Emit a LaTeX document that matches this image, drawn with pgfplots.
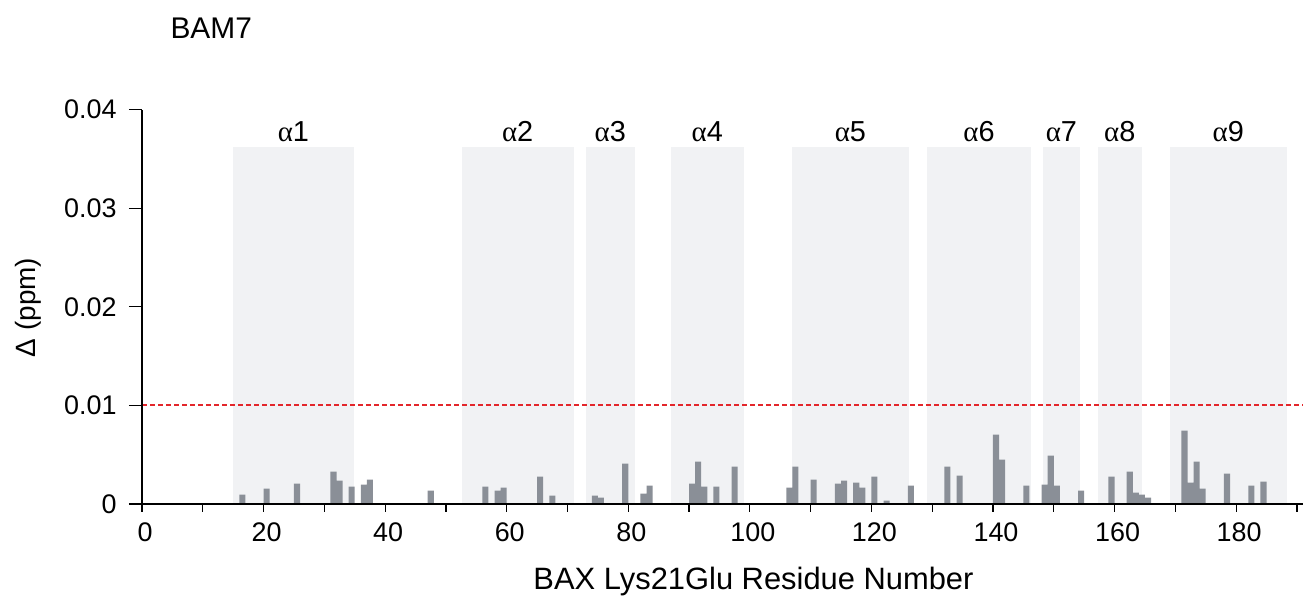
\documentclass[border=0pt]{standalone}
\usepackage{pgfplots}
\pgfplotsset{compat=1.18}
\usepackage{fontspec}
\setmainfont{Liberation Sans}
\newfontfamily\grk{Liberation Serif}
\definecolor{barc}{HTML}{8A8F97}
\definecolor{shade}{HTML}{F1F2F4}
\definecolor{redl}{HTML}{E3262B}
\pgfplotsset{
  common/.style={
    at={(0,0)}, anchor=south west,
    scale only axis, width=1161bp, height=394.4bp,
    xmin=0, xmax=191, ymin=0, ymax=0.04,
    axis line style={line width=1.2bp, black},
    tick align=outside,
    tick style={black, line width=1.2bp},
    tick label style={font=\fontsize{27}{32}\selectfont},
    /pgf/number format/assume math mode=true,
    clip=false,
  }
}
\begin{document}
\begin{tikzpicture}
% main axis: data, x ticks
\begin{axis}[common,
  axis on top,
  axis x line*=bottom, axis y line=none,
  major tick length=8bp, minor tick length=8bp,
  xtick={0,20,...,180}, minor xtick={10,30,...,190},
  xticklabel style={yshift=-7bp, xshift=3bp},
]
% helix regions
\addplot[fill=shade, draw=none] coordinates {(15,0)(15,0.0362)(34.8,0.0362)(34.8,0)} -- cycle;
\addplot[fill=shade, draw=none] coordinates {(52.6,0)(52.6,0.0362)(71,0.0362)(71,0)} -- cycle;
\addplot[fill=shade, draw=none] coordinates {(73,0)(73,0.0362)(81.1,0.0362)(81.1,0)} -- cycle;
\addplot[fill=shade, draw=none] coordinates {(87,0)(87,0.0362)(99,0.0362)(99,0)} -- cycle;
\addplot[fill=shade, draw=none] coordinates {(107,0)(107,0.0362)(126.1,0.0362)(126.1,0)} -- cycle;
\addplot[fill=shade, draw=none] coordinates {(129.1,0)(129.1,0.0362)(146.3,0.0362)(146.3,0)} -- cycle;
\addplot[fill=shade, draw=none] coordinates {(148.2,0)(148.2,0.0362)(154.3,0.0362)(154.3,0)} -- cycle;
\addplot[fill=shade, draw=none] coordinates {(157.2,0)(157.2,0.0362)(164.5,0.0362)(164.5,0)} -- cycle;
\addplot[fill=shade, draw=none] coordinates {(169.1,0)(169.1,0.0362)(188.3,0.0362)(188.3,0)} -- cycle;
% threshold
\addplot[draw=redl, line width=1.8bp, dash pattern=on 5bp off 3bp, mark=none] coordinates {(0,0.01)(191,0.01)};
% bars
\addplot[ybar, bar width=1, bar shift=0.5, fill=barc, draw=none] coordinates {
(16,0.00095)(20,0.00155)(25,0.00206)(31,0.00328)(32,0.00237)(34,0.00176)(36,0.00196)(37,0.00247)(47,0.00135)
(56,0.00176)(58,0.00135)(59,0.00166)(65,0.00277)(67,0.00085)(74,0.00085)(75,0.00064)(79,0.0041)(82,0.00105)(83,0.00186)
(90,0.00206)(91,0.00429)(92,0.00176)(94,0.00176)(97,0.00379)(106,0.00166)(107,0.00379)(110,0.00247)(114,0.00206)
(115,0.00237)(117,0.00216)(118,0.00166)(120,0.00277)(122,0.00034)(126,0.00186)(132,0.00379)(134,0.00287)
(140,0.00703)(141,0.00449)(145,0.00186)(148,0.00196)(149,0.0049)(150,0.00186)(154,0.00135)(159,0.00277)
(162,0.00328)(163,0.00115)(164,0.00095)(165,0.00064)(171,0.00744)(172,0.00216)(173,0.00429)(174,0.00155)
(178,0.00308)(182,0.00186)(184,0.00227)};
% helix labels
\begin{scope}[every node/.style={anchor=base, font=\fontsize{29}{34}\selectfont}]
\node at (axis cs:24.9,0.0368) {{\grk α}1};
\node at (axis cs:61.8,0.0368) {{\grk α}2};
\node at (axis cs:77.05,0.0368) {{\grk α}3};
\node at (axis cs:93,0.0368) {{\grk α}4};
\node at (axis cs:116.55,0.0368) {{\grk α}5};
\node at (axis cs:137.7,0.0368) {{\grk α}6};
\node at (axis cs:151.25,0.0368) {{\grk α}7};
\node at (axis cs:160.85,0.0368) {{\grk α}8};
\node at (axis cs:178.7,0.0368) {{\grk α}9};
\end{scope}
\end{axis}
% second axis: y axis only
\begin{axis}[common,
  axis x line=none, axis y line*=left,
  major tick length=13bp,
  ytick={0,0.01,0.02,0.03,0.04}, yticklabels={0,0.01,0.02,0.03,0.04},
  scaled y ticks=false,
  yticklabel style={xshift=-9bp},
]
\end{axis}
\node[anchor=base west, font=\fontsize{30}{36}\selectfont] at (25bp,465bp) {BAM7};
\node[anchor=base, font=\fontsize{31}{36}\selectfont] at (611.5bp,-85bp) {BAX Lys21Glu Residue Number};
\node[rotate=90, font=\fontsize{28}{34}\selectfont] at (-114bp,196.5bp) {Δ (ppm)};
\pgfresetboundingbox
\path[use as bounding box] (-142bp,-92bp) rectangle (1165bp,504bp);
\end{tikzpicture}
\end{document}
